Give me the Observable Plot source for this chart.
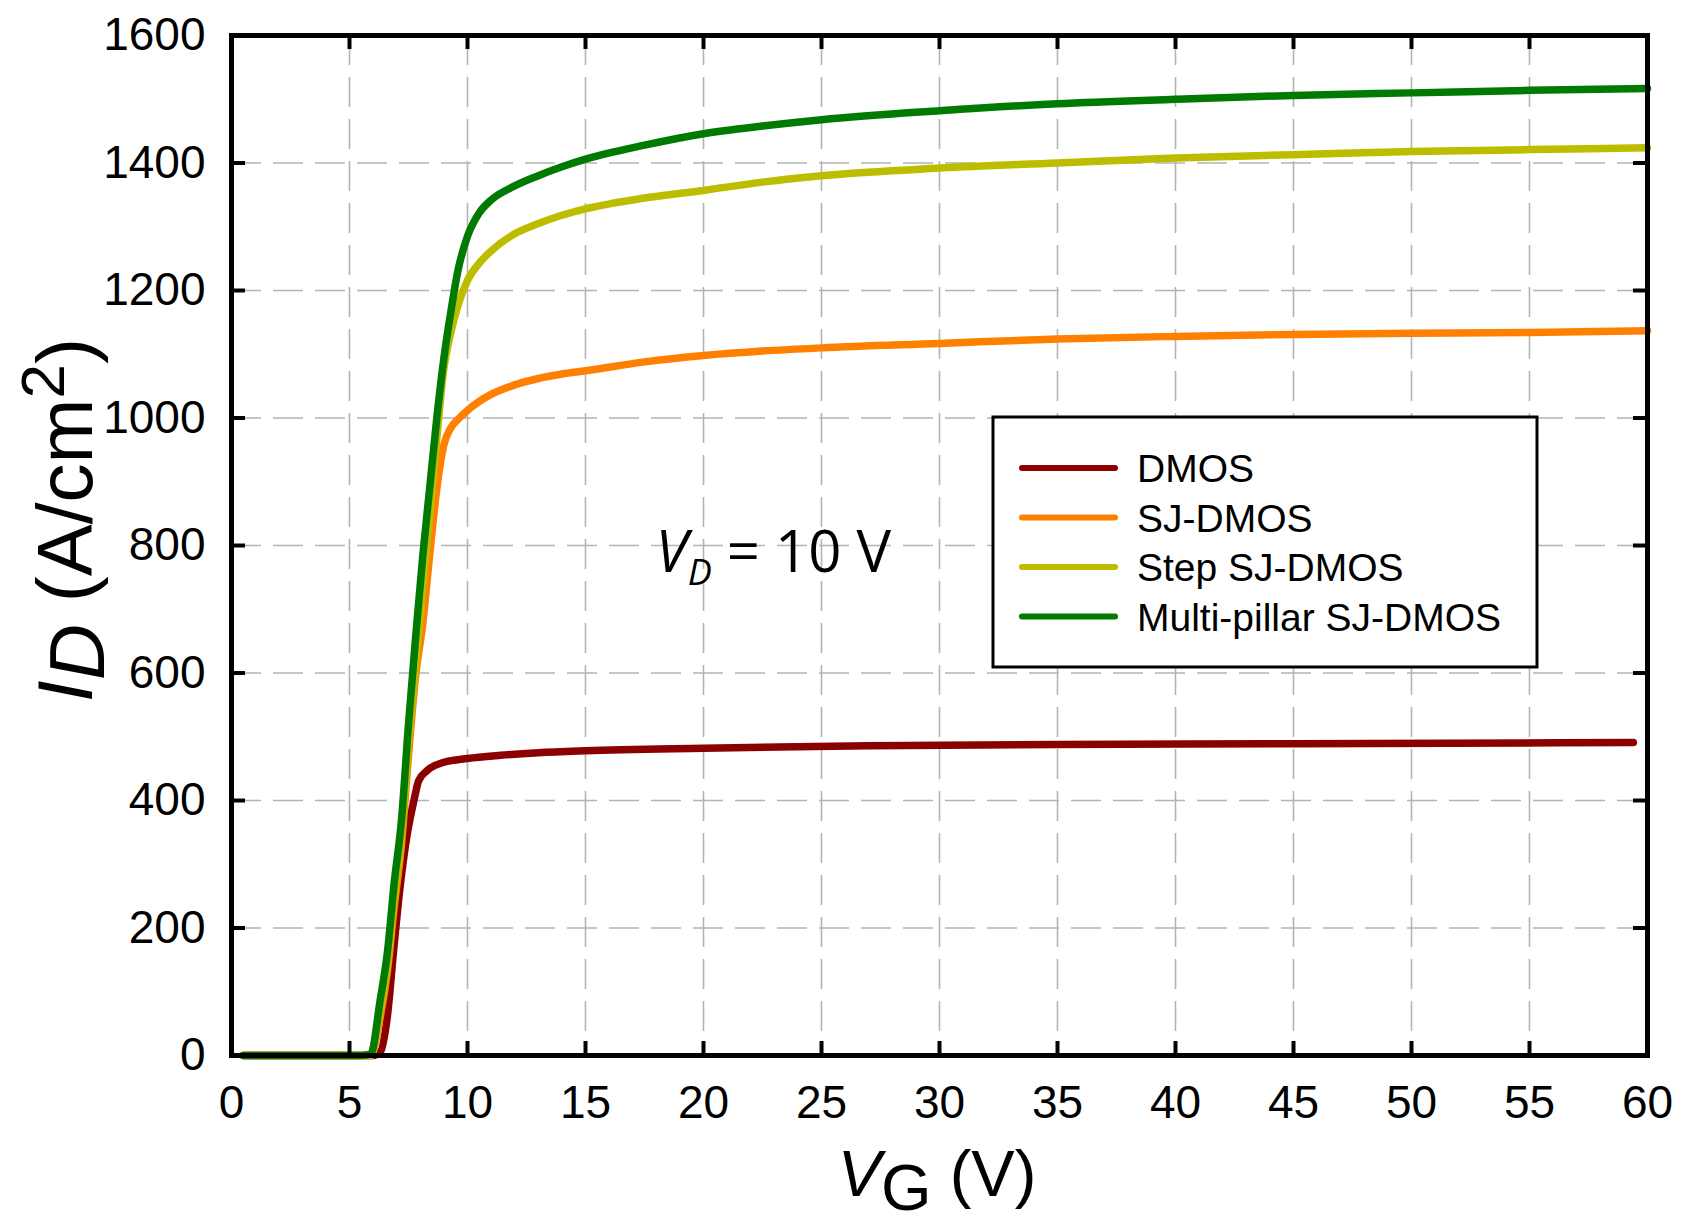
<!DOCTYPE html>
<html>
<head>
<meta charset="utf-8">
<script src="https://cdn.jsdelivr.net/npm/d3@7"></script>
<script src="https://cdn.jsdelivr.net/npm/@observablehq/plot@0.6"></script>
<style>
  body { margin: 0; background: #fff; }
  #chart svg { display: block; }
</style>
</head>
<body>
<div id="chart"></div>
<script>
// series names and colours (legend order)
const series = ["DMOS", "SJ-DMOS", "Step SJ-DMOS", "Multi-pillar SJ-DMOS"];
const colors = ["#8b0000", "#ff8000", "#bdbd00", "#007a00"];

// DMOS curve
const vgDmos = [0.5, 6.0, 6.3, 6.6, 6.87, 7.16, 7.45, 7.73, 7.93, 8.29, 9.0, 10, 11.4, 13, 15, 20, 27, 35, 45, 59.4];
const idDmos = [0, 0, 5, 60, 165, 270, 348, 400, 431, 447, 460, 466, 471, 475, 478, 482, 486, 488, 489, 491];

// gate voltages shared by the three SJ curves
const vg = [0.5, 5.5, 5.9, 6.3, 6.6, 6.9, 7.2, 7.5, 7.8, 8.1, 8.4, 8.7, 9.0, 9.3, 9.6, 10, 10.5, 11, 12, 13, 14, 15, 17.5, 20, 22.5, 25, 30, 35, 40, 45, 50, 55, 60];
const idSj    = [0, 0, 0, 60, 130, 235, 330, 470, 595, 676, 786, 889, 958, 985, 998, 1012, 1026, 1037, 1052, 1062, 1069, 1074, 1088, 1098, 1105, 1110, 1117, 1124, 1128, 1131, 1133, 1134, 1137];
const idStep  = [0, 0, 0, 70, 140, 250, 345, 490, 615, 735, 850, 968, 1078, 1135, 1177, 1216, 1243, 1262, 1289, 1305, 1318, 1328, 1345, 1357, 1370, 1380, 1392, 1400, 1408, 1413, 1418, 1421, 1424];
const idMulti = [0, 0, 2, 87, 160, 273, 368, 520, 655, 782, 891, 1000, 1094, 1168, 1232, 1285, 1322, 1342, 1364, 1380, 1394, 1406, 1428, 1446, 1458, 1468, 1482, 1493, 1500, 1506, 1510, 1514, 1517];

const xTicks = [0, 5, 10, 15, 20, 25, 30, 35, 40, 45, 50, 55, 60];
const yTicks = [0, 200, 400, 600, 800, 1000, 1200, 1400, 1600];

// annotation position (data units)
const annVg = 18.0, annId = 758;

const W = 1681, H = 1230;
const mL = 231, mR = 34, mT = 35, mB = 175;
const fw = W - mL - mR, fh = H - mT - mB;

let rows = [];
vgDmos.forEach((v, i) => rows.push({vg: v, id: idDmos[i], s: series[0]}));
[idSj, idStep, idMulti].forEach((arr, k) => {
  arr.forEach((d, i) => rows.push({vg: vg[i], id: d, s: series[k + 1]}));
});

const grid = {stroke: "#b4b4b4", strokeOpacity: 1, strokeWidth: 1.6, strokeDasharray: "30,12"};
const tick = {stroke: "black", strokeWidth: 4};

let chart = Plot.plot({
  width: W,
  height: H,
  marginLeft: mL, marginRight: mR, marginTop: mT, marginBottom: mB,
  style: {fontFamily: "'Liberation Sans', Arial, sans-serif", fontSize: "46px", background: "white", color: "black"},
  x: {domain: [0, 60]},
  y: {domain: [0, 1600]},
  color: {domain: series, range: colors},
  marks: [
    Plot.gridX(xTicks, grid),
    Plot.gridY(yTicks, grid),
    Plot.line(rows, {x: "vg", y: "id", z: "s", stroke: "s", strokeWidth: 7.5, curve: "monotone-x"}),
    // inward ticks on all four sides
    Plot.tickX(xTicks, {x: d => d, insetTop: fh - 14, ...tick}),
    Plot.tickX(xTicks, {x: d => d, insetBottom: fh - 14, ...tick}),
    Plot.tickY(yTicks, {y: d => d, insetRight: fw - 14, ...tick}),
    Plot.tickY(yTicks, {y: d => d, insetLeft: fw - 14, ...tick}),
    Plot.frame({stroke: "black", strokeWidth: 5}),
    Plot.axisX(xTicks, {tickSize: 0, tickPadding: 30, label: null, fontSize: 46, tickFormat: d3.format("d")}),
    Plot.axisY(yTicks, {tickSize: 0, tickPadding: 26, label: null, fontSize: 46, tickFormat: d3.format("d")})
  ]
});

const svg = d3.select(chart);
const sx = chart.scale("x"), sy = chart.scale("y");

// x axis title: V_G (V)
let xt = svg.append("text")
  .attr("x", 937).attr("y", 1196)
  .attr("text-anchor", "middle")
  .style("font-family", "'Liberation Sans', Arial, sans-serif")
  .style("font-size", "65px");
xt.append("tspan").attr("font-style", "italic").text("V");
xt.append("tspan").attr("dy", 14).text("G");
xt.append("tspan").attr("dy", -14).text(" (V)");

// y axis title: I_D (A/cm^2)
let yt = svg.append("text")
  .attr("transform", "translate(92,520) rotate(-90)")
  .attr("text-anchor", "middle")
  .style("font-family", "'Liberation Sans', Arial, sans-serif")
  .style("font-size", "78px");
yt.append("tspan").attr("font-style", "italic").text("I");
yt.append("tspan").attr("font-style", "italic").attr("dy", 12).text("D");
yt.append("tspan").attr("dy", -12).text(" (A/cm");
yt.append("tspan").attr("font-size", "62px").attr("dy", -28).text("2");
yt.append("tspan").attr("dy", 28).text(")");

// annotation V_D = 10 V
let ann = svg.append("text")
  .attr("x", sx.apply(annVg)).attr("y", sy.apply(annId))
  .attr("text-anchor", "start")
  .style("font-family", "'Open Sans', sans-serif")
  .style("font-size", "58px");
ann.append("tspan").attr("font-style", "italic").text("V");
ann.append("tspan").attr("font-style", "italic").attr("font-size", "36px").attr("dy", 13).text("D");
ann.append("tspan").attr("dy", -13).text(" = 10 V");

// legend box
let lg = svg.append("g");
lg.append("rect")
  .attr("x", 993).attr("y", 417).attr("width", 544).attr("height", 250)
  .attr("fill", "white").attr("stroke", "black").attr("stroke-width", 3);
series.forEach((name, i) => {
  const y = 468 + i * 49.5;
  lg.append("line")
    .attr("x1", 1022).attr("x2", 1115).attr("y1", y).attr("y2", y)
    .attr("stroke", colors[i]).attr("stroke-width", 6).attr("stroke-linecap", "round");
  lg.append("text")
    .attr("x", 1137).attr("y", y).attr("dy", "0.36em")
    .attr("text-anchor", "start")
    .style("font-family", "'Liberation Sans', Arial, sans-serif")
    .style("font-size", "39px")
    .text(name);
});

d3.select('#chart').append(() => chart);
</script>
</body>
</html>
